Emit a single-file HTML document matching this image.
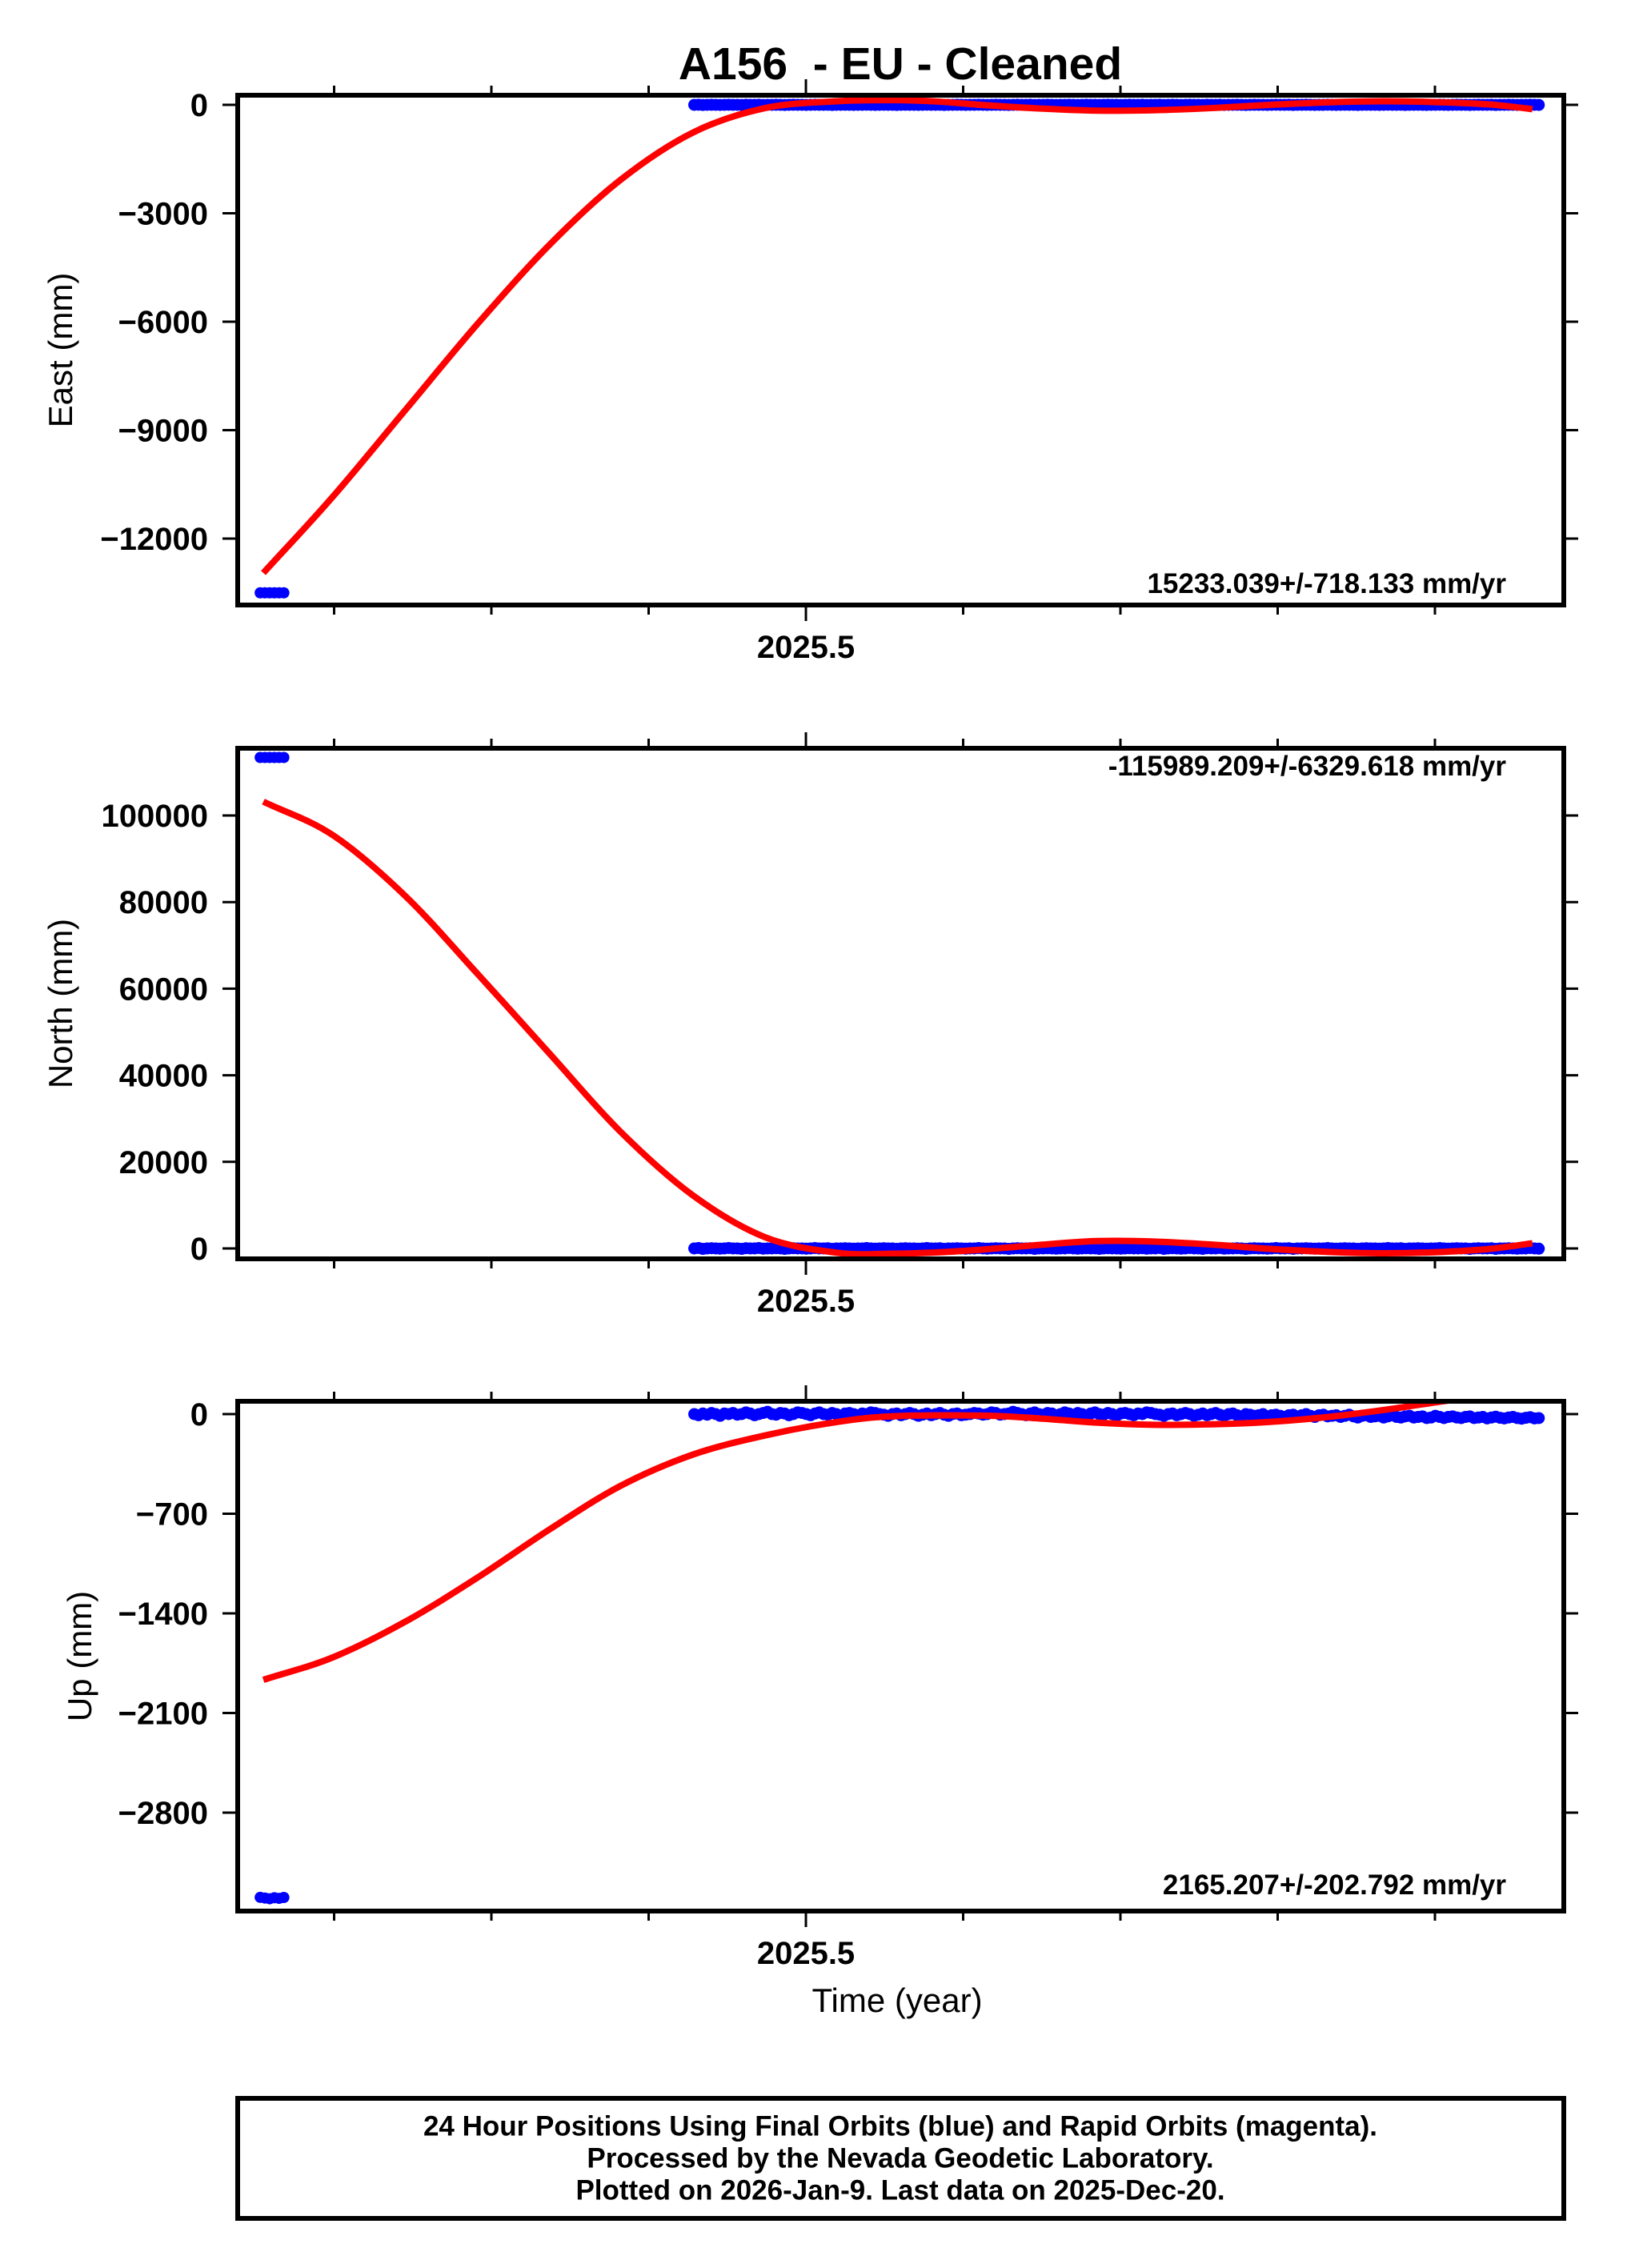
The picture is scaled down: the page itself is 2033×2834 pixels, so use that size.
<!DOCTYPE html>
<html><head><meta charset="utf-8"><style>
html,body{margin:0;padding:0;background:#fff;}
svg{display:block;font-family:"Liberation Sans",sans-serif;}
</style></head><body>
<svg id="chart" width="2033" height="2834" viewBox="0 0 2033 2834" xmlns="http://www.w3.org/2000/svg">
<text x="1125" y="99" text-anchor="middle" font-size="57" font-weight="bold" style="white-space:pre" xml:space="preserve">A156  - EU - Cleaned</text>
<g id="panels"></g>
<text x="1121" y="2514" text-anchor="middle" font-size="42">Time (year)</text>
<rect x="297" y="2622" width="1657" height="150" fill="none" stroke="#000" stroke-width="6"/>
<text x="1125" y="2659" text-anchor="middle" font-size="35" font-weight="bold" dominant-baseline="middle">24 Hour Positions Using Final Orbits (blue) and Rapid Orbits (magenta).</text>
<text x="1125" y="2699" text-anchor="middle" font-size="35" font-weight="bold" dominant-baseline="middle">Processed by the Nevada Geodetic Laboratory.</text>
<text x="1125" y="2739" text-anchor="middle" font-size="35" font-weight="bold" dominant-baseline="middle">Plotted on 2026-Jan-9. Last data on 2025-Dec-20.</text>
</svg>
<script>
// ---- data ----
const earlyYears = [2025.153, 2025.156, 2025.159, 2025.162, 2025.165, 2025.168];
const eastEarly = [-13500, -13500, -13500, -13500, -13500, -13500];
const northEarly = [113400, 113400, 113400, 113400, 113400, 113400];
const upEarly = [-3395, -3400, -3405, -3398, -3402, -3396];

const fitYears = [2025.155, 2025.199, 2025.245, 2025.291, 2025.337, 2025.382, 2025.428, 2025.474, 2025.520, 2025.556, 2025.584, 2025.611, 2025.648, 2025.685, 2025.721, 2025.758, 2025.795, 2025.832, 2025.868, 2025.905, 2025.935, 2025.962];
const eastFit = [-12950, -10850, -8460, -6070, -3870, -2080, -770, -90, 100, 130, 90, 0, -100, -160, -150, -90, 0, 70, 100, 70, 10, -120];
const northFit = [103200, 95500, 81500, 63500, 45000, 27000, 12300, 2600, -1000, -1200, -900, -300, 800, 1700, 1600, 900, -100, -800, -1100, -800, -100, 1200];
const upFitYears = [2025.155, 2025.199, 2025.245, 2025.291, 2025.337, 2025.382, 2025.428, 2025.474, 2025.520, 2025.556, 2025.611, 2025.648, 2025.685, 2025.721, 2025.758, 2025.795, 2025.832, 2025.868, 2025.905, 2025.920];
const upFit = [-1867, -1710, -1460, -1150, -810, -505, -285, -150, -55, -15, -10, -30, -60, -75, -72, -55, -20, 30, 90, 110];

const blueStart = 2025.429, blueStep = 0.00274;
const eastBlue = [0,3,-3,0,2,0,-2,0,3,0,0,-3,2,0,0,3,-2,0,0,2,0,-3,0,2,0,0,-2,0,3,0,0,2,-3,0,0,2,0,-2,0,0,3,0,-2,0,2,0,0,-3,0,2,0,0,-2,0,3,0,0,2,-3,0,0,2,0,-2,0,0,3,0,-2,0,2,0,0,-3,0,2,0,0,2,-3,0,0,2,0,-2,0,0,3,0,-2,0,2,0,0,-3,0,2,0,0,-2,0,2,0,0,2,-2,0,0,3,-3,0,2,0,-2,0,3,0,0,-3,2,0,0,3,-2,0,0,2,0,-3,0,2,0,0,-2,0,3,0,0,2,-3,0,0,2,0,-2,0,0,3,0,-2,0,2,0,0,-3,0,2,0,0,-2,0,3,0,0,2,-3,0,0,2,0,-2,0,0,3,0,-2,0,2,0,0,-3,0,2,0,0,2,-3,0,0,2,0,-2,0,0,3,0,-2,0,2,0];
const northBlue = [0,100,-100,0,50,0,-50,0,100,0,0,-100,50,0,0,100,-50,0,0,50,0,-100,0,50,0,0,-50,0,100,0,0,50,-100,0,0,50,0,-50,0,0,100,0,-50,0,50,0,0,-100,0,50,0,0,-50,0,100,0,0,50,-100,0,0,50,0,-50,0,0,100,0,-50,0,50,0,0,-100,0,50,0,0,50,-100,0,0,50,0,-50,0,0,100,0,-50,0,50,0,0,-100,0,50,0,0,-50,0,50,0,0,50,-50,0,0,100,-100,0,50,0,-50,0,100,0,0,-100,50,0,0,100,-50,0,0,50,0,-100,0,50,0,0,-50,0,100,0,0,50,-100,0,0,50,0,-50,0,0,100,0,-50,0,50,0,0,-100,0,50,0,0,-50,0,100,0,0,50,-100,0,0,50,0,-50,0,0,100,0,-50,0,50,0,0,-100,0,50,0,0,50,-100,0,0,50,0,-50,0,0,100,0,-50,0,50,0];
const upBlue = [0,-8,4,-4,8,0,-12,4,0,8,-4,0,12,4,-8,0,8,16,0,-4,8,4,-8,0,12,8,0,-8,4,12,0,-4,8,0,-12,4,8,0,-8,4,0,12,8,0,-4,-12,0,4,-8,0,8,0,-12,-4,4,-8,0,8,-4,-12,0,4,-8,-4,0,8,4,-4,0,12,8,-4,0,4,16,8,0,-8,4,12,0,-4,8,4,-8,0,12,4,-4,8,0,-8,4,12,0,-4,8,0,-12,4,8,0,-8,4,0,12,8,0,-4,-12,0,4,-8,0,8,0,-12,-4,4,-8,0,8,-4,-12,0,4,-8,-16,0,-4,-12,-8,0,-16,-8,-4,-12,-20,-8,-4,-16,-8,0,-12,-20,-8,-4,-16,-12,-8,-20,-12,-4,-16,-24,-12,-8,-20,-16,-12,-24,-16,-8,-20,-24,-16,-12,-24,-20,-16,-28,-24,-12,-20,-28,-20,-16,-24,-28,-20,-16,-28,-24,-20,-30,-24,-18,-26,-30,-24,-20,-28,-32,-26,-22,-30,-28,-24,-32,-30,-26];

const eastTicks = [0, -3000, -6000, -9000, -12000];
const northTicks = [0, 20000, 40000, 60000, 80000, 100000];
const upTicks = [0, -700, -1400, -2100, -2800];
const xMinorTicks = [2025.2, 2025.3, 2025.4, 2025.6, 2025.7, 2025.8, 2025.9];
const xMajorTick = [2025.5];
const xMajorLabel = ["2025.5"];

// ---- layout ----
const NS = "http://www.w3.org/2000/svg";
const L = 297, R = 1954;
const blueEnd = 2025.967;
function xs(yr){ return 1007 + (yr - 2025.5) * 1965; }
const panelsG = document.getElementById('panels');
function el(tag, attrs, parent){
  const e = document.createElementNS(NS, tag);
  for (const k in attrs) e.setAttribute(k, attrs[k]);
  (parent || panelsG).appendChild(e);
  return e;
}

function panel(cfg){
  const g = el('g', {});
  
  
  const ys = v => cfg.y0 + v * cfg.pxPer;
  cfg.ticks.forEach(t => {
    const y = ys(t);
    const tl = el('line', {x1: 278, x2: L, y1: y, y2: y, stroke: '#000', 'stroke-width': 3}, g);
    
    
    const tr = el('line', {x1: R, x2: R + 18, y1: y, y2: y, stroke: '#000', 'stroke-width': 3}, g);
    
    
    const lb = el('text', {x: 260, y: y + 14, 'text-anchor': 'end', 'font-size': 40, 'font-weight': 'bold'}, g);
    lb.textContent = t === 0 ? '0' : (t < 0 ? '\u2212' + Math.abs(t) : String(t));
    
    
  });
  xMinorTicks.forEach(t => {
    const x = xs(t);
    const a = el('line', {x1: x, x2: x, y1: cfg.top - 12, y2: cfg.top, stroke: '#000', 'stroke-width': 3}, g);
    
    
    const b = el('line', {x1: x, x2: x, y1: cfg.bot, y2: cfg.bot + 12, stroke: '#000', 'stroke-width': 3}, g);
    
    
  });
  xMajorTick.forEach((t, i) => {
    const x = xs(t);
    const a = el('line', {x1: x, x2: x, y1: cfg.top - 20, y2: cfg.top, stroke: '#000', 'stroke-width': 3}, g);
    
    
    const b = el('line', {x1: x, x2: x, y1: cfg.bot, y2: cfg.bot + 20, stroke: '#000', 'stroke-width': 3}, g);
    
    
    const lb = el('text', {x: x, y: cfg.bot + 66, 'text-anchor': 'middle', 'font-size': 40, 'font-weight': 'bold'}, g);
    lb.textContent = xMajorLabel[i];
    
    
  });
  const cp = el('clipPath', {id: 'clip-' + cfg.name}, g);
  el('rect', {x: L, y: cfg.top, width: R - L, height: cfg.bot - cfg.top}, cp);
  const inner = el('g', {'clip-path': 'url(#clip-' + cfg.name + ')'}, g);
  earlyYears.forEach((yr, i) => {
    const c = el('circle', {cx: xs(yr), cy: ys(cfg.early[i]), r: 7, fill: '#0000ff'}, inner);
    
    
  });
  cfg.blue.forEach((v, i) => {
    const yr = blueStart + i * blueStep;
    if (yr > blueEnd) return;
    const c = el('circle', {cx: xs(yr), cy: ys(v), r: 7.5, fill: '#0000ff'}, inner);
    
    
  });
  const pts = cfg.fitX.map((yr, i) => [xs(yr), ys(cfg.fit[i])]);
  let d = 'M' + pts[0][0] + ',' + pts[0][1];
  for (let i = 0; i < pts.length - 1; i++) {
    const p0 = i === 0 ? [2 * pts[0][0] - pts[1][0], 2 * pts[0][1] - pts[1][1]] : pts[i - 1];
    const p1 = pts[i], p2 = pts[i + 1], p3 = pts[Math.min(pts.length - 1, i + 2)];
    const c1x = p1[0] + (p2[0] - p0[0]) / 6, c1y = p1[1] + (p2[1] - p0[1]) / 6;
    const c2x = p2[0] - (p3[0] - p1[0]) / 6, c2y = p2[1] - (p3[1] - p1[1]) / 6;
    d += ' C' + c1x + ',' + c1y + ' ' + c2x + ',' + c2y + ' ' + p2[0] + ',' + p2[1];
  }
  const fl = el('path', {d: d, fill: 'none', stroke: '#ff0000', 'stroke-width': 8, 'stroke-linejoin': 'round'}, inner);
  
  
  const fr = el('rect', {x: L, y: cfg.top, width: R - L, height: cfg.bot - cfg.top, fill: 'none', stroke: '#000', 'stroke-width': 6}, g);
  
  
  const rt = el('text', {x: 1882, y: cfg.rateY, 'text-anchor': 'end', 'font-size': 35, 'font-weight': 'bold'}, g);
  rt.textContent = cfg.rate;
  
  
  const yt = el('text', {x: 0, y: 0, 'text-anchor': 'middle', 'font-size': 42, transform: 'translate(' + cfg.titleX + ',' + ((cfg.top + cfg.bot) / 2) + ') rotate(-90)'}, g);
  yt.textContent = cfg.title;
  
  
}

panel({name: 'east', top: 119, bot: 756, y0: 131, pxPer: -135.5 / 3000, ticks: eastTicks, early: eastEarly, blue: eastBlue, fitX: fitYears, fit: eastFit, rate: '15233.039+/-718.133 mm/yr', rateY: 741, title: 'East (mm)', titleX: 90});
panel({name: 'north', top: 935, bot: 1573, y0: 1560, pxPer: -108.2 / 20000, ticks: northTicks, early: northEarly, blue: northBlue, fitX: fitYears, fit: northFit, rate: '-115989.209+/-6329.618 mm/yr', rateY: 969, title: 'North (mm)', titleX: 90});
panel({name: 'up', top: 1751, bot: 2388, y0: 1767, pxPer: -124.5 / 700, ticks: upTicks, early: upEarly, blue: upBlue, fitX: upFitYears, fit: upFit, rate: '2165.207+/-202.792 mm/yr', rateY: 2367, title: 'Up (mm)', titleX: 114});
</script>
</body></html>
